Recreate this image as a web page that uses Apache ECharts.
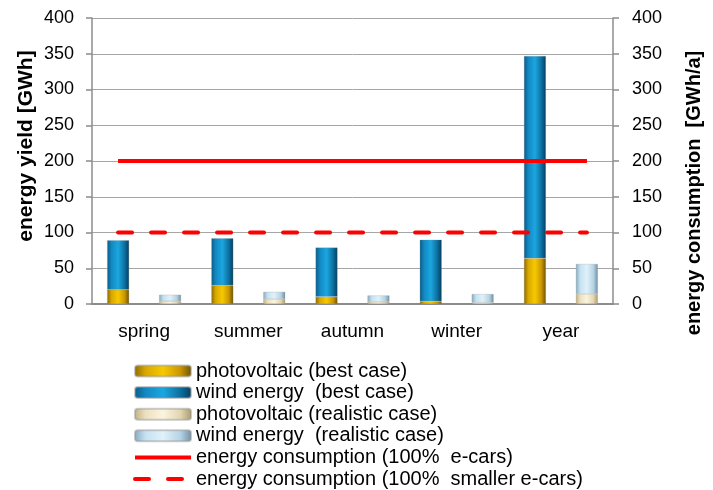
<!DOCTYPE html>
<html>
<head>
<meta charset="utf-8">
<script src="https://cdn.jsdelivr.net/npm/echarts@6/dist/echarts.min.js"></script>
<style>
html,body{margin:0;padding:0;background:#fff;}
#chart{width:713px;height:490px;}
</style>
</head>
<body>
<div id="chart"></div>
<script>
// ---- data ----
var categories = ['spring', 'summer', 'autumn', 'winter', 'year'];
var barSlots = ['spring best', 'spring realistic', 'summer best', 'summer realistic',
  'autumn best', 'autumn realistic', 'winter best', 'winter realistic', 'year best', 'year realistic'];
var pvBest = [20, 26, 10, 4, 64];
var windBest = [69, 66, 69, 86, 283];
var pvRealistic = [4, 7, 3, 2, 14];
var windRealistic = [9, 10, 9, 12, 42];
var consumptionAllCars = [200, 200, 200, 200, 200, 200, 200, 200, 200, 200];
var consumptionSmallCars = [100, 100, 100, 100, 100, 100, 100, 100, 100, 100];
var yTicks = { min: 0, max: 400, interval: 50 };

var names = {
  pvBest: 'photovoltaic (best case)',
  windBest: 'wind energy  (best case)',
  pvReal: 'photovoltaic (realistic case)',
  windReal: 'wind energy  (realistic case)',
  consAll: 'energy consumption (100%  e-cars)',
  consSmall: 'energy consumption (100%  smaller e-cars)'
};

function grad(stops) {
  return new echarts.graphic.LinearGradient(0, 0, 1, 0, stops.map(function (s) {
    return { offset: s[0], color: s[1] };
  }));
}
var cPvBest = grad([[0, '#8a6800'], [0.2, '#d9a800'], [0.5, '#f7c900'], [0.8, '#c99600'], [1, '#6a5000']]);
var cWindBest = grad([[0, '#0a5a86'], [0.2, '#1289c2'], [0.5, '#1ca6e0'], [0.8, '#0c6f9f'], [1, '#053c5a']]);
var cPvReal = grad([[0, '#bfae80'], [0.2, '#ece1c0'], [0.5, '#fbf4de'], [0.8, '#e2d6b0'], [1, '#a8976a']]);
var cWindReal = grad([[0, '#86a9be'], [0.2, '#c6e2f1'], [0.5, '#e0f1fa'], [0.8, '#b5d3e4'], [1, '#6f8ea2']]);

var font = 'Liberation Sans, Arial, sans-serif';
var chart = echarts.init(document.getElementById('chart'), null, { renderer: 'canvas' });

var axisColor = '#8c8c8c';
var hiddenSymbol = { opacity: 0, color: 'rgba(0,0,0,0)', borderWidth: 0 };
chart.setOption({
  animation: false,
  backgroundColor: '#ffffff',
  textStyle: { fontFamily: font, color: '#000' },
  grid: { left: 92, right: 100, top: 18, bottom: 186, containLabel: false },
  legend: {
    orient: 'vertical',
    left: 133,
    top: 361,
    padding: 0,
    itemWidth: 56,
    itemHeight: 11,
    itemGap: 1.6,
    textStyle: { fontFamily: font, fontSize: 20, color: '#000', lineHeight: 20 },
    data: [
      { name: names.pvBest },
      { name: names.windBest },
      { name: names.pvReal },
      { name: names.windReal },
      { name: names.consAll, itemStyle: hiddenSymbol, lineStyle: { width: 4, color: '#ff0000' } },
      { name: names.consSmall, itemStyle: hiddenSymbol, lineStyle: { width: 4, color: '#ff0000', type: [14, 19], cap: 'round' } }
    ]
  },
  xAxis: [
    {
      type: 'category',
      data: categories,
      axisLine: { show: true, lineStyle: { color: axisColor, width: 2 } },
      axisTick: { show: false },
      axisLabel: { fontFamily: font, fontSize: 19, color: '#000', margin: 18 }
    },
    {
      type: 'category',
      data: barSlots,
      show: false,
      boundaryGap: true
    }
  ],
  yAxis: [
    {
      type: 'value',
      min: yTicks.min, max: yTicks.max, interval: yTicks.interval,
      name: 'energy yield [GWh]',
      nameLocation: 'middle',
      nameRotate: 90,
      nameGap: 55,
      nameMoveOverlap: false,
      nameTextStyle: { fontFamily: font, fontSize: 21, fontWeight: 'bold', color: '#000', padding: [0, 0, 0, 30] },
      axisLine: { show: true, lineStyle: { color: axisColor, width: 1.5 } },
      axisTick: { show: true, length: 6, lineStyle: { color: axisColor, width: 1.5 } },
      axisLabel: { fontFamily: font, fontSize: 18, color: '#000', margin: 18 },
      splitLine: { show: true, lineStyle: { color: '#a6a6a6', width: 1 } }
    },
    {
      type: 'value',
      position: 'right',
      min: yTicks.min, max: yTicks.max, interval: yTicks.interval,
      name: 'energy consumption  [GWh/a]',
      nameLocation: 'middle',
      nameRotate: 90,
      nameGap: 71,
      nameMoveOverlap: false,
      nameTextStyle: { fontFamily: font, fontSize: 20, fontWeight: 'bold', color: '#000', padding: [0, 64, 0, 0] },
      axisLine: { show: true, lineStyle: { color: axisColor, width: 1.5 } },
      axisTick: { show: true, length: 6, lineStyle: { color: axisColor, width: 1.5 } },
      axisLabel: { fontFamily: font, fontSize: 18, color: '#000', margin: 19 },
      splitLine: { show: false }
    }
  ],
  series: [
    {
      name: names.pvBest, type: 'bar', stack: 'best', data: pvBest,
      barWidth: 22, barGap: '136%',
      itemStyle: { color: cPvBest, borderColor: 'rgba(150,150,150,0.5)', borderWidth: 0.5 }
    },
    {
      name: names.windBest, type: 'bar', stack: 'best', data: windBest,
      barWidth: 22, barGap: '136%',
      itemStyle: { color: cWindBest, borderColor: 'rgba(150,150,150,0.5)', borderWidth: 0.5 }
    },
    {
      name: names.pvReal, type: 'bar', stack: 'real', data: pvRealistic,
      barWidth: 22, barGap: '136%',
      itemStyle: { color: cPvReal, borderColor: 'rgba(150,150,150,0.5)', borderWidth: 0.5 }
    },
    {
      name: names.windReal, type: 'bar', stack: 'real', data: windRealistic,
      barWidth: 22, barGap: '136%',
      itemStyle: { color: cWindReal, borderColor: 'rgba(150,150,150,0.5)', borderWidth: 0.5 }
    },
    {
      name: names.consAll, type: 'line', xAxisIndex: 1, yAxisIndex: 1, data: consumptionAllCars,
      symbol: 'none', itemStyle: { color: '#ff0000' },
      lineStyle: { color: '#ff0000', width: 4 }, z: 5
    },
    {
      name: names.consSmall, type: 'line', xAxisIndex: 1, yAxisIndex: 1, data: consumptionSmallCars,
      symbol: 'none', itemStyle: { color: '#ff0000' },
      lineStyle: { color: '#ff0000', width: 4, type: [14, 19], cap: 'round' }, z: 5
    }
  ]
});
</script>
</body>
</html>
